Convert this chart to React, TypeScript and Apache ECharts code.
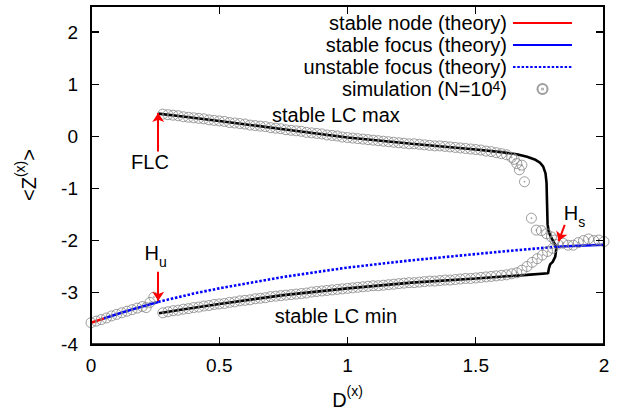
import React, { useEffect, useRef } from "react";
import * as echarts from "echarts";

const FONT = "'Liberation Sans', Arial, sans-serif";
const W = 629;
const H = 415;
const GRID = { left: 91, right: 25, top: 6, bottom: 70 };

// Axis ticks
const xTicks = [0, 0.5, 1, 1.5, 2];
const yTicks = [-4, -3, -2, -1, 0, 1, 2];
const yMax = 2.5;

// Theory curves [D, <Z>]
const stableNode = [[0, -3.59], [0.05, -3.51]];
const stableFocusLeft = [[0.05, -3.51], [0.1, -3.43], [0.15, -3.35], [0.2, -3.28], [0.262, -3.19]];
const stableFocusRight = [[1.815, -2.13], [1.9, -2.11], [2.0, -2.09]];
const unstableFocus = [
  [0.262, -3.19], [0.4, -3.03], [0.5, -2.93], [0.75, -2.71], [1.0, -2.53],
  [1.25, -2.39], [1.5, -2.27], [1.65, -2.2], [1.815, -2.13],
];
const lcMax = [
  [0.262, 0.43], [0.35, 0.38], [0.5, 0.29], [0.75, 0.13], [1.0, -0.03], [1.25, -0.15],
  [1.5, -0.26], [1.6, -0.31], [1.66, -0.35], [1.7, -0.4], [1.73, -0.45], [1.75, -0.51],
  [1.763, -0.59], [1.772, -0.72], [1.776, -0.9], [1.778, -1.3], [1.78, -1.7],
  [1.785, -1.85], [1.795, -1.96], [1.805, -2.05], [1.815, -2.13],
];
const lcMin = [
  [0.265, -3.41], [0.35, -3.34], [0.5, -3.23], [0.75, -3.06], [1.0, -2.93], [1.25, -2.82],
  [1.5, -2.74], [1.7, -2.67], [1.782, -2.64], [1.785, -2.55], [1.79, -2.47], [1.8, -2.42],
  [1.81, -2.32], [1.815, -2.13],
];

// Simulation (N=10^4) [D, <Z>]
const simStable = [
  [0, -3.59], [0.02, -3.56], [0.04, -3.53], [0.06, -3.5], [0.08, -3.46], [0.1, -3.43],
  [0.12, -3.4], [0.14, -3.37], [0.16, -3.34], [0.18, -3.31], [0.2, -3.28], [0.215, -3.3],
  [0.23, -3.2], [0.245, -3.1],
];
const simMax = [
  [0.28, 0.42], [0.3, 0.41], [0.32, 0.4], [0.34, 0.39], [0.36, 0.37], [0.38, 0.36], [0.4, 0.35],
  [0.42, 0.34], [0.44, 0.33], [0.46, 0.31], [0.48, 0.3], [0.5, 0.29], [0.52, 0.28], [0.54, 0.26],
  [0.56, 0.25], [0.58, 0.24], [0.6, 0.23], [0.62, 0.21], [0.64, 0.2], [0.66, 0.19], [0.68, 0.18],
  [0.7, 0.16], [0.72, 0.15], [0.74, 0.14], [0.76, 0.12], [0.78, 0.11], [0.8, 0.1], [0.82, 0.09],
  [0.84, 0.07], [0.86, 0.06], [0.88, 0.05], [0.9, 0.04], [0.92, 0.02], [0.94, 0.01], [0.96, 0.0],
  [0.98, -0.02], [1.0, -0.03], [1.02, -0.04], [1.04, -0.05], [1.06, -0.06], [1.08, -0.07],
  [1.1, -0.08], [1.12, -0.09], [1.14, -0.1], [1.16, -0.11], [1.18, -0.12], [1.2, -0.13],
  [1.22, -0.14], [1.24, -0.15], [1.26, -0.15], [1.28, -0.16], [1.3, -0.17], [1.32, -0.18],
  [1.34, -0.19], [1.36, -0.19], [1.38, -0.2], [1.4, -0.21], [1.42, -0.22], [1.44, -0.23],
  [1.46, -0.24], [1.48, -0.25], [1.5, -0.26], [1.52, -0.27], [1.54, -0.29], [1.56, -0.3],
  [1.58, -0.32], [1.6, -0.34], [1.62, -0.36], [1.64, -0.41], [1.65, -0.45], [1.66, -0.53],
  [1.67, -0.65], [1.68, -0.56], [1.69, -0.88], [1.717, -1.58], [1.736, -1.81], [1.756, -1.82],
  [1.776, -1.88], [1.795, -1.94], [1.808, -2.0],
];
const simMin = [
  [0.28, -3.4], [0.3, -3.38], [0.32, -3.36], [0.34, -3.35], [0.36, -3.33], [0.38, -3.32],
  [0.4, -3.3], [0.42, -3.29], [0.44, -3.27], [0.46, -3.26], [0.48, -3.24], [0.5, -3.23],
  [0.52, -3.22], [0.54, -3.2], [0.56, -3.19], [0.58, -3.17], [0.6, -3.16], [0.62, -3.15],
  [0.64, -3.13], [0.66, -3.12], [0.68, -3.11], [0.7, -3.09], [0.72, -3.08], [0.74, -3.07],
  [0.76, -3.06], [0.78, -3.05], [0.8, -3.04], [0.82, -3.03], [0.84, -3.02], [0.86, -3.0],
  [0.88, -2.99], [0.9, -2.98], [0.92, -2.97], [0.94, -2.96], [0.96, -2.95], [0.98, -2.94],
  [1.0, -2.93], [1.02, -2.92], [1.04, -2.91], [1.06, -2.9], [1.08, -2.89], [1.1, -2.88],
  [1.12, -2.88], [1.14, -2.87], [1.16, -2.86], [1.18, -2.85], [1.2, -2.84], [1.22, -2.83],
  [1.24, -2.82], [1.26, -2.82], [1.28, -2.81], [1.3, -2.8], [1.32, -2.79], [1.34, -2.79],
  [1.36, -2.78], [1.38, -2.77], [1.4, -2.77], [1.42, -2.76], [1.44, -2.75], [1.46, -2.74],
  [1.48, -2.74], [1.5, -2.73], [1.52, -2.72], [1.54, -2.71], [1.56, -2.7], [1.58, -2.69],
  [1.6, -2.68], [1.62, -2.67], [1.64, -2.65], [1.66, -2.63], [1.68, -2.58], [1.7, -2.51],
  [1.72, -2.43], [1.74, -2.36], [1.76, -2.29], [1.78, -2.22], [1.8, -2.16],
];
const simAfter = [
  [1.82, -2.08], [1.84, -2.06], [1.86, -2.1], [1.88, -2.1], [1.9, -2.05], [1.92, -2.01],
  [1.94, -1.98], [1.96, -2.01], [1.98, -2.0], [2.0, -2.03],
];

// Annotation anchors [D, <Z>]
const flcArrow = [[0.262, -0.3], [0.262, 0.44]];
const huArrow = [[0.262, -2.61], [0.262, -3.17]];
const hsArrow = [[1.847, -1.71], [1.823, -2.02]];
const labelFLC = [0.23, -0.5];
const labelHu = [0.252, -2.3];
const labelHs = [1.885, -1.53];
const labelLCmax = [0.955, 0.4];
const labelLCmin = [0.955, -3.46];

const SIM_NAME = "simulation (N=10^4)";
const LEGEND_NAMES = ["stable node (theory)", "stable focus (theory)", "unstable focus (theory)", SIM_NAME];
const CIRCLE =
  "path://M10,0A10,10,0,1,1,-10,0A10,10,0,1,1,10,0ZM1,0A1,1,0,1,1,-1,0A1,1,0,1,1,1,0Z";

const txt = { fontFamily: FONT, color: "#000" };
const richBase = {
  t: { ...txt, fontSize: 20, lineHeight: 26, verticalAlign: "bottom" },
  sup: { ...txt, fontSize: 14, lineHeight: 12, verticalAlign: "top" },
  h: { ...txt, fontSize: 20, lineHeight: 26, verticalAlign: "top" },
  sub: { ...txt, fontSize: 14, lineHeight: 10, verticalAlign: "bottom" },
};
const richLegend = {
  t: { ...txt, fontSize: 20, lineHeight: 20, verticalAlign: "middle" },
  t2: { ...txt, fontSize: 20, lineHeight: 20, verticalAlign: "bottom" },
  sup: { ...txt, fontSize: 14, lineHeight: 4, verticalAlign: "top" },
};

function textPoint(coord: number[], formatter: string) {
  return {
    coord,
    symbol: "circle",
    symbolSize: 0,
    label: {
      show: true,
      position: "inside",
      formatter,
      color: "#000",
      fontSize: 20,
      fontFamily: FONT,
      rich: richBase,
    },
  };
}

// Plot frame with inside ticks on all four sides (HTML overlay, decoration only)
function Frame() {
  const l = GRID.left;
  const r = W - GRID.right;
  const t = GRID.top;
  const b = H - GRID.bottom;
  const fx = (v: number) => l + ((v - xTicks[0]) / (xTicks[xTicks.length - 1] - xTicks[0])) * (r - l);
  const fy = (v: number) => b - ((v - yTicks[0]) / (yMax - yTicks[0])) * (b - t);
  const bar = (key: string, x: number, y: number, w: number, h: number) => (
    <div
      key={key}
      style={{ position: "absolute", left: x, top: y, width: w, height: h, background: "#000", pointerEvents: "none" }}
    />
  );
  const els: any[] = [
    bar("t", l - 0.75, t - 0.75, r - l + 1.5, 1.5),
    bar("r", r - 0.75, t - 0.75, 1.5, b - t + 1.5),
    bar("b", l - 0.75, b - 0.75, r - l + 1.5, 1.5),
    bar("l", l - 0.75, t - 0.75, 1.5, b - t + 1.5),
  ];
  xTicks.slice(1, -1).forEach((v) => {
    const x = fx(v);
    els.push(bar("xt" + v, x - 0.6, t, 1.2, 8));
    els.push(bar("xb" + v, x - 0.6, b - 8, 1.2, 8));
  });
  yTicks.slice(1).forEach((v) => {
    const y = fy(v);
    els.push(bar("yl" + v, l, y - 0.6, 8, 1.2));
    els.push(bar("yr" + v, r - 8, y - 0.6, 8, 1.2));
  });
  return <>{els}</>;
}

export default function App() {
  const ref = useRef<HTMLDivElement>(null);
  useEffect(() => {
    if (!ref.current) return;
    const chart = echarts.init(ref.current, undefined, { renderer: "svg" });
    const lineBase = (name: string, data: number[][], color: string, extra: any = {}) => ({
      type: "line",
      name,
      data,
      showSymbol: false,
      symbol: "none",
      lineStyle: { color, width: 2.6, ...extra },
      itemStyle: { color },
      z: 2,
    });
    const simSeries = (data: number[][]) => ({
      type: "scatter",
      name: SIM_NAME,
      data,
      symbol: CIRCLE,
      symbolSize: 10,
      symbolKeepAspect: true,
      itemStyle: { color: "transparent", borderColor: "#858585", borderWidth: 1 },
      z: 3,
    });
    chart.setOption({
      animation: false,
      grid: { ...GRID, containLabel: false },
      legend: {
        orient: "vertical",
        right: 51,
        top: 8,
        align: "right",
        itemWidth: 59,
        itemHeight: 10,
        itemGap: 2,
        selectedMode: false,
        data: LEGEND_NAMES.map((n) =>
          n === SIM_NAME ? { name: n } : { name: n, itemStyle: { opacity: 0 } }
        ),
        formatter: (name: string) =>
          name === SIM_NAME ? "{t2|simulation (N=10}{sup|4}{t2|)}" : "{t|" + name + "}",
        textStyle: {
          fontSize: 20,
          fontFamily: FONT,
          color: "#000",
          padding: [0, 1, 0, 0],
          rich: richLegend,
        },
      },
      xAxis: {
        type: "value",
        min: xTicks[0],
        max: xTicks[xTicks.length - 1],
        interval: 0.5,
        position: "bottom",
        axisLine: { show: true, onZero: false, lineStyle: { color: "#000", width: 1.5 } },
        axisTick: { show: false },
        splitLine: { show: false },
        axisLabel: { color: "#000", fontSize: 19, fontFamily: FONT, margin: 12 },
        name: "{t|D}{sup|(x)}",
        nameLocation: "middle",
        nameGap: 40,
        nameTextStyle: { rich: richBase },
      },
      yAxis: {
        type: "value",
        min: yTicks[0],
        max: yMax,
        interval: 1,
        position: "left",
        axisLine: { show: true, onZero: false, lineStyle: { color: "#000", width: 1.5 } },
        axisTick: { show: false },
        splitLine: { show: false },
        axisLabel: {
          color: "#000",
          fontSize: 19,
          fontFamily: FONT,
          margin: 13,
          showMaxLabel: false,
          formatter: (v: number) => (yTicks.includes(v) ? String(v) : ""),
        },
        name: "{t|<Z}{sup|(x)}{t|>}",
        nameLocation: "middle",
        nameGap: 52,
        nameTextStyle: { rich: richBase },
      },
      series: [
        {
          ...lineBase("LC max", lcMax, "#000"),
          markPoint: {
            silent: true,
            data: [
              textPoint(labelLCmax, "stable LC max"),
              textPoint(labelLCmin, "stable LC min"),
              textPoint(labelFLC, "FLC"),
              textPoint(labelHu, "{h|H}{sub|u}"),
              textPoint(labelHs, "{h|H}{sub|s}"),
            ],
          },
          markLine: {
            silent: true,
            symbol: ["none", "arrow"],
            symbolSize: 9,
            label: { show: false },
            lineStyle: { color: "#ff0000", width: 2, type: "solid" },
            data: [
              [{ coord: flcArrow[0] }, { coord: flcArrow[1] }],
              [{ coord: huArrow[0] }, { coord: huArrow[1] }],
              [{ coord: hsArrow[0] }, { coord: hsArrow[1] }],
            ],
          },
        },
        lineBase("LC min", lcMin, "#000"),
        lineBase("unstable focus (theory)", unstableFocus, "#0000ff", { type: [2.5, 1.8] }),
        lineBase("stable focus (theory)", stableFocusLeft, "#0000ff"),
        lineBase("stable focus (theory)", stableFocusRight, "#0000ff"),
        lineBase("stable node (theory)", stableNode, "#ff0000"),
        simSeries(simStable),
        simSeries(simMax),
        simSeries(simMin),
        simSeries(simAfter),
      ],
    });
    return () => chart.dispose();
  }, []);
  return (
    <div style={{ position: "fixed", left: 0, top: 0, width: W, height: H, background: "#fff" }}>
      <div ref={ref} style={{ position: "absolute", left: 0, top: 0, width: W, height: H }} />
      <Frame />
    </div>
  );
}
